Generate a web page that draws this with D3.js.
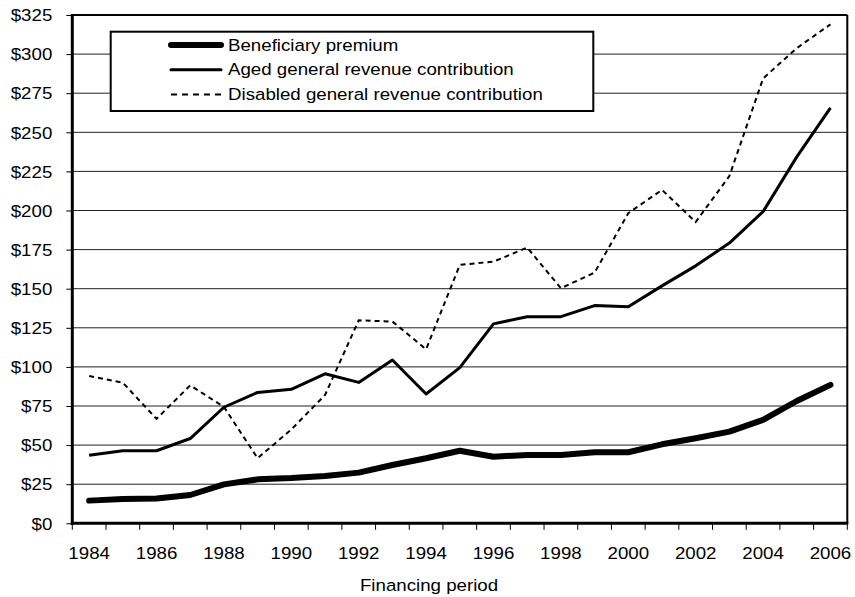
<!DOCTYPE html>
<html>
<head>
<meta charset="utf-8">
<script src="https://cdn.jsdelivr.net/npm/d3@7"></script>
<style>
  html, body { margin: 0; padding: 0; background: #fff; }
  text { font-family: "Liberation Sans", Arial, sans-serif; font-size: 17px; fill: #000; }
</style>
</head>
<body>
<svg id="chart" width="855" height="597"></svg>
<script>
const years = d3.range(1984, 2007);
const beneficiaryPremium = [14.5, 15.5, 15.8, 18.1, 24.9, 28.1, 28.9, 30.2, 32.4, 37.3, 41.6, 46.4, 42.6, 43.7, 43.7, 45.4, 45.4, 50.5, 54.4, 58.6, 66.1, 78.2, 88.5];
const agedContribution = [43.5, 46.4, 46.4, 54.2, 74.2, 83.7, 85.7, 95.6, 90.1, 104.4, 82.7, 99.5, 127.5, 132.1, 132.1, 139.2, 138.5, 151.8, 164.6, 179.2, 199.3, 234.3, 265.6];
const disabledContribution = [94.2, 89.9, 66.8, 88.2, 74.4, 41.6, 60, 82, 129.8, 129, 111.3, 165.2, 167.3, 176.3, 150.3, 160.3, 198.3, 213.2, 192.6, 222, 284.4, 303.8, 319];
const yTicks = d3.range(0, 326, 25);
const xLabelYears = years.filter(y => (y - 1984) % 2 === 0);
const seriesNames = ["Beneficiary premium", "Aged general revenue contribution", "Disabled general revenue contribution"];
const xTitle = "Financing period";

const margin = {top: 15, right: 7.7, bottom: 73.7, left: 72.3};
const W = 855, H = 597;
const w = W - margin.left - margin.right, h = H - margin.top - margin.bottom;

const svg = d3.select("#chart");
svg.append("rect").attr("width", W).attr("height", H).attr("fill", "#fff");
const g = svg.append("g").attr("transform", `translate(${margin.left},${margin.top})`);

const x = d3.scaleBand().domain(years).range([0, w]).padding(0);
const y = d3.scaleLinear().domain([0, 325]).range([h, 0]);
const cx = d => x(d) + x.bandwidth() / 2;

// gridlines
g.append("g").selectAll("line").data(yTicks.filter(t => t > 0 && t < 325)).join("line")
  .attr("x1", 0).attr("x2", w).attr("y1", d => y(d)).attr("y2", d => y(d))
  .attr("stroke", "#222").attr("stroke-width", 1);

// top & right border
g.append("line").attr("x1", 0).attr("x2", w).attr("y1", 0).attr("y2", 0).attr("stroke", "#000").attr("stroke-width", 2);
g.append("line").attr("x1", w).attr("x2", w).attr("y1", 0).attr("y2", h).attr("stroke", "#000").attr("stroke-width", 2);

// Y axis
const yAxis = d3.axisLeft(y).tickValues(yTicks).tickFormat(d => "$" + d).tickSize(6).tickPadding(14);
const ya = g.append("g").call(yAxis);
ya.select(".domain").remove();
ya.selectAll(".tick line").attr("stroke", "#000").attr("stroke-width", 1);
ya.selectAll(".tick text").attr("dy", "0.34em");
ya.attr("font-family", null).attr("font-size", null);
g.append("line").attr("x1", 0).attr("x2", 0).attr("y1", -1).attr("y2", h + 1.5).attr("stroke", "#000").attr("stroke-width", 3);

// X axis: ticks at category boundaries
const xa = g.append("g").attr("transform", `translate(0,${h})`);
const bounds = years.map(d => x(d)).concat([w]);
xa.selectAll("line.tk").data(bounds).join("line").attr("class", "tk")
  .attr("x1", d => d).attr("x2", d => d).attr("y1", 0).attr("y2", 6.5)
  .attr("stroke", "#000").attr("stroke-width", 1);
xa.selectAll("text").data(xLabelYears).join("text")
  .attr("x", d => cx(d)).attr("y", 35.5).attr("text-anchor", "middle").text(d => d);
g.append("line").attr("x1", -1.5).attr("x2", w + 1).attr("y1", h).attr("y2", h).attr("stroke", "#000").attr("stroke-width", 3);

// X title
svg.append("text").attr("x", 429).attr("y", 591).attr("text-anchor", "middle").text(xTitle);

// lines
const line = d3.line().x((d, i) => cx(years[i])).y(d => y(d));
g.append("path").datum(disabledContribution).attr("d", line)
  .attr("fill", "none").attr("stroke", "#000").attr("stroke-width", 2).attr("stroke-dasharray", "5,4");
g.append("path").datum(agedContribution).attr("d", line)
  .attr("fill", "none").attr("stroke", "#000").attr("stroke-width", 3).attr("stroke-linejoin", "round");
g.append("path").datum(beneficiaryPremium).attr("d", line)
  .attr("fill", "none").attr("stroke", "#000").attr("stroke-width", 6).attr("stroke-linejoin", "round").attr("stroke-linecap", "round");

// legend
const lg = svg.append("g");
lg.append("rect").attr("x", 110.7).attr("y", 31.7).attr("width", 482.6).attr("height", 79.3)
  .attr("fill", "#fff").attr("stroke", "#000").attr("stroke-width", 2);
const legStyles = [
  {w: 6, dash: null, cap: "round"},
  {w: 3, dash: null, cap: "round"},
  {w: 2, dash: "6,5", cap: "butt"}
];
seriesNames.forEach((name, i) => {
  const ry = 45 + i * 24.8;
  lg.append("line").attr("x1", 171).attr("x2", 221).attr("y1", ry).attr("y2", ry)
    .attr("stroke", "#000").attr("stroke-width", legStyles[i].w)
    .attr("stroke-linecap", legStyles[i].cap)
    .attr("stroke-dasharray", legStyles[i].dash);
  lg.append("text").attr("x", 228).attr("y", ry + 5.5).text(name);
});

// the reference typeface is slightly wide: stretch text horizontally about its anchor
svg.selectAll("text").each(function() {
  const t = d3.select(this);
  const tx = +t.attr("x") || 0, ty = +t.attr("y") || 0;
  t.attr("x", 0).attr("y", 0).attr("transform", `translate(${tx},${ty}) scale(1.1,1)`);
});
</script>
</body>
</html>
